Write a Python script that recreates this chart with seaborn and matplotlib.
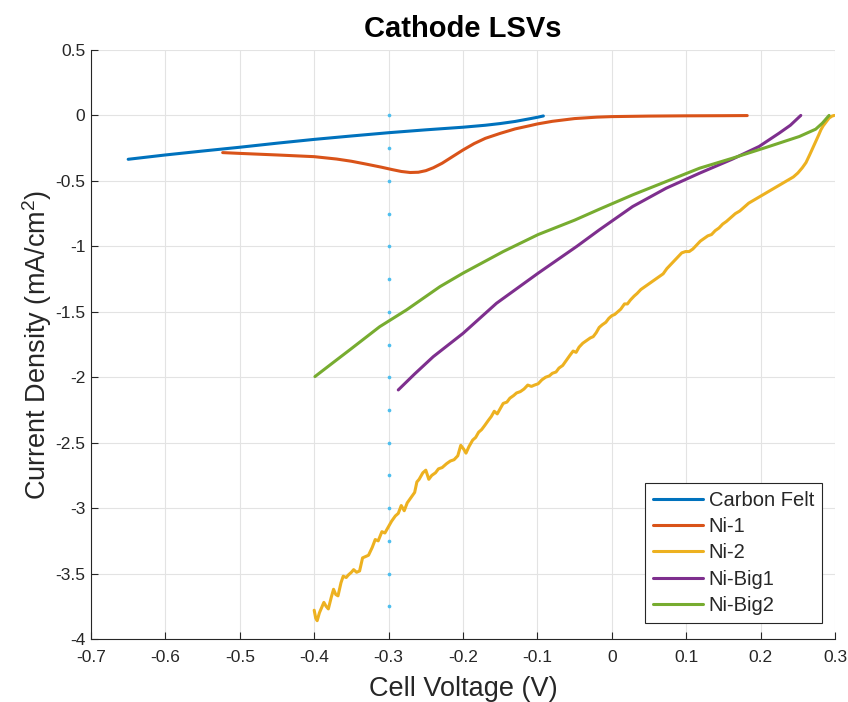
import matplotlib
matplotlib.use("Agg")
import matplotlib.pyplot as plt
import seaborn as sns
import pandas as pd

# ---------------- data ----------------
series_names = ["Carbon Felt", "Ni-1", "Ni-2", "Ni-Big1", "Ni-Big2"]

cf_x = [-0.650, -0.600, -0.550, -0.500, -0.450, -0.400, -0.350, -0.300, -0.250, -0.200, -0.170, -0.150, -0.130, -0.110, -0.100, -0.092]
cf_y = [-0.335, -0.302, -0.272, -0.243, -0.212, -0.183, -0.157, -0.132, -0.110, -0.090, -0.075, -0.062, -0.046, -0.025, -0.014, -0.004]

n1_x = [-0.523, -0.500, -0.450, -0.400, -0.370, -0.350, -0.330, -0.310, -0.295, -0.283, -0.271, -0.260, -0.250, -0.240, -0.228, -0.215, -0.200, -0.185, -0.170, -0.150, -0.130, -0.110, -0.100, -0.080, -0.050, -0.020, 0.000, 0.050, 0.100, 0.150, 0.182]
n1_y = [-0.284, -0.290, -0.302, -0.315, -0.333, -0.350, -0.372, -0.395, -0.414, -0.428, -0.436, -0.434, -0.422, -0.400, -0.365, -0.318, -0.264, -0.215, -0.175, -0.137, -0.103, -0.078, -0.065, -0.045, -0.024, -0.013, -0.009, -0.005, -0.003, -0.002, -0.001]

n2_x = [-0.400, -0.398, -0.396, -0.393, -0.390, -0.387, -0.384, -0.381, -0.377, -0.374, -0.371, -0.368, -0.364, -0.361, -0.357, -0.354, -0.350, -0.347, -0.343, -0.339, -0.335, -0.331, -0.327, -0.322, -0.318, -0.314, -0.309, -0.305, -0.301, -0.296, -0.291, -0.287, -0.283, -0.279, -0.275, -0.270, -0.265, -0.262, -0.259, -0.254, -0.250, -0.246, -0.242, -0.237, -0.233, -0.228, -0.222, -0.217, -0.212, -0.207, -0.203, -0.199, -0.196, -0.192, -0.187, -0.183, -0.179, -0.175, -0.171, -0.166, -0.162, -0.158, -0.154, -0.150, -0.146, -0.141, -0.137, -0.132, -0.128, -0.123, -0.118, -0.113, -0.108, -0.104, -0.099, -0.094, -0.089, -0.084, -0.080, -0.075, -0.071, -0.066, -0.061, -0.056, -0.052, -0.048, -0.044, -0.039, -0.034, -0.029, -0.025, -0.021, -0.017, -0.013, -0.008, -0.004, 0.000, 0.004, 0.008, 0.012, 0.017, 0.021, 0.025, 0.030, 0.034, 0.039, 0.044, 0.049, 0.054, 0.059, 0.064, 0.069, 0.074, 0.079, 0.084, 0.089, 0.094, 0.099, 0.104, 0.109, 0.114, 0.119, 0.124, 0.129, 0.134, 0.139, 0.144, 0.149, 0.154, 0.160, 0.166, 0.172, 0.178, 0.184, 0.190, 0.196, 0.202, 0.208, 0.214, 0.220, 0.226, 0.232, 0.238, 0.244, 0.250, 0.256, 0.261, 0.266, 0.270, 0.274, 0.278, 0.281, 0.284, 0.288, 0.292, 0.296, 0.299]
n2_y = [-3.78, -3.84, -3.86, -3.80, -3.76, -3.72, -3.75, -3.77, -3.68, -3.62, -3.66, -3.67, -3.57, -3.52, -3.53, -3.51, -3.49, -3.47, -3.49, -3.48, -3.38, -3.37, -3.36, -3.30, -3.24, -3.25, -3.18, -3.19, -3.15, -3.10, -3.06, -3.04, -2.98, -3.02, -2.96, -2.92, -2.88, -2.80, -2.78, -2.73, -2.71, -2.78, -2.75, -2.73, -2.70, -2.69, -2.66, -2.64, -2.63, -2.60, -2.52, -2.55, -2.58, -2.53, -2.48, -2.46, -2.42, -2.40, -2.37, -2.33, -2.30, -2.26, -2.28, -2.24, -2.20, -2.19, -2.16, -2.14, -2.12, -2.11, -2.09, -2.06, -2.07, -2.06, -2.05, -2.02, -2.00, -1.99, -1.97, -1.96, -1.93, -1.91, -1.87, -1.83, -1.80, -1.81, -1.77, -1.74, -1.72, -1.70, -1.69, -1.66, -1.62, -1.60, -1.58, -1.55, -1.53, -1.52, -1.50, -1.48, -1.44, -1.44, -1.41, -1.38, -1.36, -1.33, -1.31, -1.29, -1.27, -1.25, -1.23, -1.21, -1.17, -1.14, -1.11, -1.08, -1.05, -1.04, -1.04, -1.02, -0.99, -0.96, -0.94, -0.92, -0.91, -0.88, -0.86, -0.83, -0.81, -0.78, -0.75, -0.73, -0.70, -0.67, -0.65, -0.63, -0.61, -0.59, -0.57, -0.55, -0.53, -0.51, -0.49, -0.47, -0.44, -0.40, -0.36, -0.30, -0.25, -0.20, -0.15, -0.11, -0.08, -0.05, -0.02, -0.005, 0.0]

nb1_x = [-0.287, -0.265, -0.240, -0.200, -0.155, -0.099, -0.047, -0.017, 0.028, 0.073, 0.118, 0.162, 0.198, 0.225, 0.240, 0.254]
nb1_y = [-2.097, -1.975, -1.843, -1.665, -1.435, -1.205, -1.000, -0.875, -0.696, -0.556, -0.441, -0.334, -0.237, -0.135, -0.075, 0.000]

nb2_x = [-0.399, -0.375, -0.352, -0.312, -0.276, -0.231, -0.200, -0.146, -0.099, -0.050, -0.017, 0.028, 0.073, 0.118, 0.162, 0.207, 0.252, 0.274, 0.283, 0.292]
nb2_y = [-1.995, -1.890, -1.790, -1.614, -1.486, -1.308, -1.205, -1.040, -0.910, -0.800, -0.717, -0.607, -0.505, -0.403, -0.327, -0.245, -0.161, -0.105, -0.059, 0.000]

marker_x = -0.3
marker_y = [0, -0.25, -0.5, -0.75, -1.0, -1.25, -1.5, -1.75, -2.0, -2.25, -2.5, -2.75, -3.0, -3.25, -3.5, -3.75]

colors = ["#0072BD", "#D95319", "#EDB120", "#7E2F8E", "#77AC30"]

xs = [cf_x, n1_x, n2_x, nb1_x, nb2_x]
ys = [cf_y, n1_y, n2_y, nb1_y, nb2_y]
frames = []
for name, x, y in zip(series_names, xs, ys):
    d = pd.DataFrame({"x": x, "y": y})
    d["series"] = name
    frames.append(d)
df = pd.concat(frames, ignore_index=True)

# ---------------- style ----------------
sns.set_theme(style="white")
plt.rcParams["font.family"] = ["Liberation Sans", "DejaVu Sans"]
plt.rcParams["mathtext.fontset"] = "custom"
plt.rcParams["mathtext.rm"] = "Liberation Sans"

fig = plt.figure(figsize=(8.48, 7.02), dpi=100)
ax = fig.add_axes([0.1073, 0.0897, 0.8774, 0.8391])

sns.lineplot(data=df, x="x", y="y", hue="series", hue_order=series_names,
             palette=dict(zip(series_names, colors)), sort=False,
             estimator=None, units="series", linewidth=2.2, ax=ax)

mdf = pd.DataFrame({"x": [marker_x] * len(marker_y), "y": marker_y})
sns.scatterplot(data=mdf, x="x", y="y", color="#4DBEEE", s=7, linewidth=0,
                ax=ax, legend=False, zorder=1)

ax.set_xlim(-0.7, 0.3)
ax.set_ylim(-4, 0.5)
ax.set_xticks([-0.7, -0.6, -0.5, -0.4, -0.3, -0.2, -0.1, 0, 0.1, 0.2, 0.3])
ax.set_xticklabels(["-0.7", "-0.6", "-0.5", "-0.4", "-0.3", "-0.2", "-0.1", "0", "0.1", "0.2", "0.3"])
ax.set_yticks([-4, -3.5, -3, -2.5, -2, -1.5, -1, -0.5, 0, 0.5])
ax.set_yticklabels(["-4", "-3.5", "-3", "-2.5", "-2", "-1.5", "-1", "-0.5", "0", "0.5"])

ax.grid(True, color="#e3e3e3", linewidth=0.8)
ax.set_axisbelow(True)
for s in ["top", "right"]:
    ax.spines[s].set_visible(False)
for s in ["left", "bottom"]:
    ax.spines[s].set_color("#262626")
    ax.spines[s].set_linewidth(0.8)
ax.tick_params(direction="in", length=5, width=0.8, color="#262626",
               labelsize=12.5, labelcolor="#262626", left=True, bottom=True)
ax.tick_params(axis="x", pad=8)
ax.tick_params(axis="y", pad=4)

ax.set_xlabel("Cell Voltage (V)", fontsize=19.5, color="#262626", labelpad=8)
ax.set_ylabel("Current Density (mA/cm$^2$)", fontsize=19.5, color="#262626", labelpad=1)
ax.set_title("Cathode LSVs", fontsize=21, fontweight="bold", color="black", pad=9)

leg = ax.legend(loc="lower right", bbox_to_anchor=(0.9825, 0.0272), borderaxespad=0,
                fontsize=14.5, frameon=True, fancybox=False,
                framealpha=1, edgecolor="#262626", handlelength=2.45,
                borderpad=0.4, labelspacing=0.36, handletextpad=0.3)
leg.get_frame().set_linewidth(0.8)
for line in leg.get_lines():
    line.set_linewidth(2.2)

fig.savefig("out.png", dpi=100)
